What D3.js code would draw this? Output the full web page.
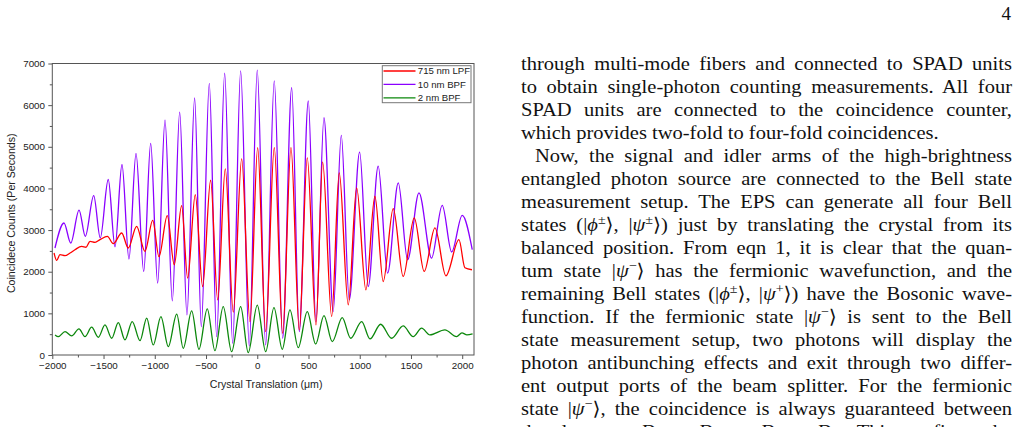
<!DOCTYPE html>
<html>
<head>
<meta charset="utf-8">
<script src="https://cdn.jsdelivr.net/npm/d3@7"></script>
<style>
  body { margin: 0; background: #fff; }
  svg { display: block; }
  .axis text { font-family: "Liberation Sans", Arial, sans-serif; font-size: 9.8px; fill: #222; }
  .axis line { stroke: #555; }
  .axis path { display: none; }
  .label { font-family: "Liberation Sans", Arial, sans-serif; font-size: 10.6px; fill: #222; }
  .legend text { font-family: "Liberation Sans", Arial, sans-serif; font-size: 9.6px; fill: #222; }
  .body { font-family: "Liberation Serif", "DejaVu Serif", serif; font-size: 19px; fill: #111; }
</style>
</head>
<body>
<svg id="page" width="1017" height="427"></svg>
<script>
// curves: [crystal translation (um), coincidence counts]
var lpf715 = [[-1983,2449],[-1957,2271],[-1925,2408],[-1876,2384],[-1827,2449],[-1779,2528],[-1713,2608],
  [-1671,2588],[-1632,2728],[-1583,2704],[-1535,2769],[-1463,2849],[-1405,2673],[-1323,2930],[-1259,2569],
  [-1177,3089],[-1096,2487],[-1020,3234],[-959,2360],[-878,3347],[-810,2167],[-738,3588],[-679,1847],
  [-605,3853],[-533,1645],[-455,4197],[-386,1324],[-312,4471],[-234,1028],[-152,4712],[-71,802],[4,4977],
  [82,561],[166,4977],[248,522],[329,4977],[410,602],[488,4736],[573,722],[638,4631],[726,922],[800,4375],
  [888,1204],[970,4014],[1060,1565],[1148,3812],[1229,1765],[1327,3516],[1424,1886],[1532,3291],[1629,2006],
  [1734,3051],[1841,1902],[1968,2769],[2026,2095],[2095,2047]];
var bpf10 = [[-1974,2569],[-1886,3170],[-1820,2690],[-1739,3480],[-1678,2849],[-1596,3829],[-1532,2810],
  [-1454,4214],[-1388,2600],[-1320,4575],[-1252,2304],[-1183,4840],[-1108,2006],[-1040,5081],[-972,1726],
  [-900,5642],[-829,1300],[-757,5834],[-686,963],[-611,6171],[-546,681],[-468,6525],[-396,441],[-318,6766],
  [-240,282],[-162,6822],[-78,217],[0,6839],[82,241],[166,6581],[248,402],[336,6422],[410,561],[498,6099],
  [573,802],[651,5699],[741,1043],[820,5273],[898,1324],[999,4871],[1083,1645],[1180,4534],[1272,1967],
  [1376,4134],[1467,2287],[1578,3894],[1701,2328],[1805,3595],[1897,2473],[2000,3354],[2098,2528]];
var bpf2 = [[-1973,482],[-1941,441],[-1876,561],[-1811,457],[-1740,626],[-1681,441],[-1616,667],[-1551,426],
  [-1486,722],[-1420,402],[-1356,778],[-1291,361],[-1220,802],[-1144,344],[-1079,884],[-1015,241],[-940,922],
  [-868,200],[-786,980],[-722,161],[-640,1059],[-569,137],[-488,1108],[-413,104],[-332,1163],[-250,79],
  [-162,1163],[-88,55],[0,1197],[82,79],[163,1139],[244,137],[319,1084],[400,176],[488,1043],[570,265],
  [651,946],[732,320],[829,898],[911,402],[1019,802],[1100,385],[1204,739],[1311,402],[1424,698],[1522,441],
  [1604,643],[1685,482],[1831,602],[1945,441],[1997,530],[2046,482],[2101,506]];

var seriesNames = ["715 nm LPF", "10 nm BPF", "2 nm BPF"];
var seriesColors = ["#ff0000", "#8a00ff", "#0b870b"];

var xTicks = [-2000, -1500, -1000, -500, 0, 500, 1000, 1500, 2000];
var xMinor = [-1750, -1250, -750, -250, 250, 750, 1250, 1750];
var yTicks = [0, 1000, 2000, 3000, 4000, 5000, 6000, 7000];
var yMinor = [500, 1500, 2500, 3500, 4500, 5500, 6500];

// text column; {i:..} italic, {^:..} superscript, {_:..} subscript
var bodyLines = [
  "through multi-mode fibers and connected to SPAD units",
  "to obtain single-photon counting measurements. All four",
  "SPAD units are connected to the coincidence counter,",
  "which provides two-fold to four-fold coincidences.",
  "Now, the signal and idler arms of the high-brightness",
  "entangled photon source are connected to the Bell state",
  "measurement setup. The EPS can generate all four Bell",
  "states (|{i:ϕ}{^:±}⟩, |{i:ψ}{^:±}⟩) just by translating the crystal from its",
  "balanced position. From eqn 1, it is clear that the quan-",
  "tum state |{i:ψ}{^:−}⟩ has the fermionic wavefunction, and the",
  "remaining Bell states (|{i:ϕ}{^:±}⟩, |{i:ψ}{^:+}⟩) have the Bosonic wave-",
  "function. If the fermionic state |{i:ψ}{^:−}⟩ is sent to the Bell",
  "state measurement setup, two photons will display the",
  "photon antibunching effects and exit through two differ-",
  "ent output ports of the beam splitter. For the fermionic",
  "state |{i:ψ}{^:−}⟩, the coincidence is always guaranteed between",
  "the detectors {i:D}{_:A} − {i:D}{_:B} or {i:D}{_:C} − {i:D}{_:D}. This confirms the"
];
var paragraphEnds = [3];
var indented = [4];

var svg = d3.select("#page");
svg.append("rect").attr("width", 1017).attr("height", 427).attr("fill", "#fff");

var plot = { left: 52.3, right: 474, top: 63.5, bottom: 355 };
var x = d3.scaleLinear().domain([-2000, 2115]).range([plot.left, plot.right]);
var y = d3.scaleLinear().domain([0, 7000]).range([plot.bottom, plot.top]);
var fmt = d3.format("d");

var chart = svg.append("g");

// minor ticks first, then the labelled ones
chart.append("g").attr("class", "axis")
  .attr("transform", "translate(0," + plot.bottom + ")")
  .call(d3.axisBottom(x).tickValues(xMinor).tickSize(2.5).tickFormat(""));
chart.append("g").attr("class", "axis")
  .attr("transform", "translate(" + plot.left + ",0)")
  .call(d3.axisLeft(y).tickValues(yMinor).tickSize(2.5).tickFormat(""));
chart.append("g").attr("class", "axis")
  .attr("transform", "translate(0," + plot.bottom + ")")
  .call(d3.axisBottom(x).tickValues(xTicks).tickSize(4).tickPadding(3.4).tickFormat(fmt));
chart.append("g").attr("class", "axis")
  .attr("transform", "translate(" + plot.left + ",0)")
  .call(d3.axisLeft(y).tickValues(yTicks).tickSize(4).tickPadding(3.3).tickFormat(fmt));

var line = d3.line()
  .x(function(d) { return x(d[0]); })
  .y(function(d) { return y(d[1]); })
  .curve(d3.curveMonotoneX);

var drawOrder = [1, 0, 2];
var allSeries = [lpf715, bpf10, bpf2];
drawOrder.forEach(function(k) {
  chart.append("path")
    .datum(allSeries[k])
    .attr("fill", "none")
    .attr("stroke", seriesColors[k])
    .attr("stroke-width", 1.3)
    .attr("d", line);
});

chart.append("rect")
  .attr("x", plot.left).attr("y", plot.top)
  .attr("width", plot.right - plot.left).attr("height", plot.bottom - plot.top)
  .attr("fill", "none").attr("stroke", "#555").attr("stroke-width", 1);

chart.append("text").attr("class", "label")
  .attr("text-anchor", "middle")
  .attr("x", (plot.left + plot.right) / 2 + 3).attr("y", 388)
  .text("Crystal Translation (μm)");
chart.append("text").attr("class", "label")
  .attr("text-anchor", "middle")
  .attr("transform", "translate(15," + ((plot.top + plot.bottom) / 2 + 4) + ") rotate(-90)")
  .text("Coincidece Counts (Per Seconds)");

// legend
var legend = chart.append("g").attr("class", "legend");
legend.append("rect")
  .attr("x", 382.3).attr("y", 65.7).attr("width", 88.7).attr("height", 37)
  .attr("fill", "#fff").attr("stroke", "#777").attr("stroke-width", 1);
seriesNames.forEach(function(name, i) {
  var ly = 71 + i * 13.4;
  legend.append("line")
    .attr("x1", 383.5).attr("x2", 415.5).attr("y1", ly).attr("y2", ly)
    .attr("stroke", seriesColors[i]).attr("stroke-width", 1.3);
  legend.append("text").attr("x", 417.8).attr("y", ly).attr("dy", "0.35em").text(name);
});

// page number
svg.append("text").attr("class", "body")
  .attr("x", 1011).attr("y", 20).attr("text-anchor", "end").text("4");

// right-hand text column, glyphs widened a little, justified through word spacing
var colLeft = 521, colRight = 1012, stretch = 1.08;
var colWidth = (colRight - colLeft) / stretch;
var column = svg.append("g")
  .attr("transform", "translate(" + colLeft + ",0) scale(" + stretch + ",1)");
var tokenRe = /\{(i|\^|_):([^}]*)\}/g;
bodyLines.forEach(function(str, i) {
  var x0 = indented.indexOf(i) >= 0 ? 14 / stretch : 0;
  var t = column.append("text").attr("class", "body")
    .attr("x", x0).attr("y", 70.3 + i * 23);
  var last = 0, m, shift = 0;
  function plain(s) {
    if (!s) return;
    var sp = t.append("tspan").text(s);
    if (shift) { sp.attr("dy", -shift); shift = 0; }
  }
  tokenRe.lastIndex = 0;
  while ((m = tokenRe.exec(str)) !== null) {
    plain(str.slice(last, m.index));
    var sp = t.append("tspan").text(m[2]);
    if (m[1] === "i") {
      sp.attr("font-style", "italic");
      if (shift) { sp.attr("dy", -shift); shift = 0; }
    } else {
      var d = m[1] === "^" ? -7 : 4;
      sp.attr("font-size", "13px").attr("dy", d - shift);
      shift = d;
    }
    last = tokenRe.lastIndex;
  }
  plain(str.slice(last));
  if (shift) t.append("tspan").attr("dy", -shift).text("\u200B");

  if (paragraphEnds.indexOf(i) < 0) {
    var w = t.node().getComputedTextLength();
    var plainText = str.replace(tokenRe, "$2");
    var spaces = (plainText.match(/ /g) || []).length;
    if (spaces > 0) t.attr("word-spacing", ((colWidth - x0) - w) / spaces);
  }
});
</script>
</body>
</html>
